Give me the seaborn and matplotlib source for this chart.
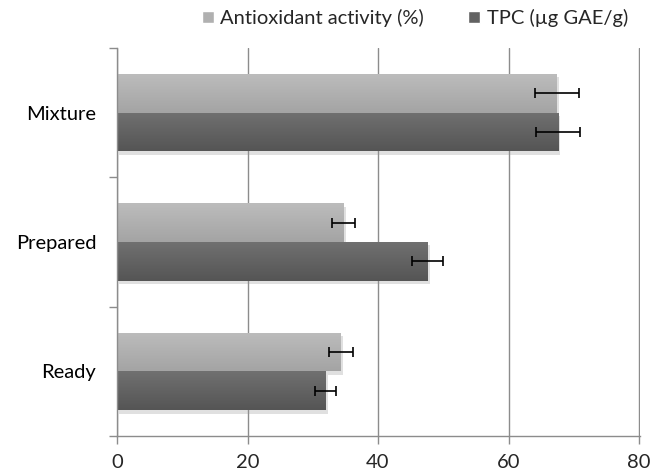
import numpy as np
import pandas as pd
import matplotlib
matplotlib.use("Agg")
import matplotlib.pyplot as plt
import matplotlib.patheffects as pe
from matplotlib.colors import LinearSegmentedColormap
import seaborn as sns

# Data
samples = ["Mixture", "Prepared", "Ready"]
series = ["Antioxidant activity (%)", "TPC (µg GAE/g)"]
antioxidant = [67.4, 34.7, 34.3]
antioxidant_err = [3.4, 1.8, 1.8]
tpc = [67.6, 47.6, 32.0]
tpc_err = [3.4, 2.4, 1.6]

df = pd.DataFrame({
    "sample": samples * 2,
    "series": [series[0]] * 3 + [series[1]] * 3,
    "value": antioxidant + tpc,
})
errors = {series[0]: antioxidant_err, series[1]: tpc_err}
gradients = {
    series[0]: LinearSegmentedColormap.from_list("light", ["#bcbcbc", "#a4a4a4"]),
    series[1]: LinearSegmentedColormap.from_list("dark", ["#707070", "#555555"]),
}

sns.set_style("white")
plt.rcParams["font.family"] = ["Lato", "DejaVu Sans"]

fig = plt.figure(figsize=(6.6, 4.72), dpi=100)
ax = fig.add_axes([117 / 660, 1 - 436 / 472, 523 / 660, 388 / 472])

sns.barplot(data=df, y="sample", x="value", hue="series", orient="h",
            order=samples, hue_order=series, errorbar=None, width=0.6,
            palette=["#b0b0b0", "#626262"], saturation=1, ax=ax, legend=True)

ax.set_xlim(0, 80)
ax.set_ylim(2.5, -0.5)

shadow = [pe.withSimplePatchShadow(offset=(1.5, -2.5), shadow_rgbFace="#999999", alpha=0.3)]
ramp = np.linspace(0, 1, 64).reshape(-1, 1)
for container, name in zip(ax.containers, series):
    centers = []
    for bar in container:
        bar.set_path_effects(shadow)
        bar.set_edgecolor("none")
        x0, y0, w, h = bar.get_x(), bar.get_y(), bar.get_width(), bar.get_height()
        # vertical shading inside the bar (top lighter, bottom darker)
        img = ax.imshow(ramp, cmap=gradients[name], aspect="auto",
                        extent=(x0, x0 + w, y0 + h, y0), zorder=bar.get_zorder() + 0.1,
                        interpolation="bilinear")
        img.set_clip_path(bar)
        centers.append(y0 + h / 2)
    vals = [bar.get_width() for bar in container]
    ax.errorbar(vals, centers, xerr=errors[name], fmt="none", ecolor="black",
                elinewidth=1.2, capsize=3.5, capthick=1.2, zorder=5)

ax.set_xlim(0, 80.15)
ax.set_ylim(2.5, -0.5)
ax.set_xticks([0, 20, 40, 60, 80])
ax.xaxis.grid(True, color="#8c8c8c", linewidth=1)
ax.set_axisbelow(True)
ax.set_xlabel("")
ax.set_ylabel("")

# category ticks sit between groups, like Excel
ax.set_yticks([-0.5, 0.5, 1.5, 2.5], minor=True)
ax.tick_params(axis="y", which="major", length=0, pad=15, labelsize=14.5, colors="black")
ax.tick_params(axis="y", which="minor", length=6, width=1, color="#8c8c8c", direction="out", left=True)
ax.tick_params(axis="x", length=6, width=1, color="#8c8c8c", direction="out", bottom=True,
               labelsize=14.5, pad=7)

for s in ["top", "right"]:
    ax.spines[s].set_visible(False)
for s in ["left", "bottom"]:
    ax.spines[s].set_color("#8c8c8c")
    ax.spines[s].set_linewidth(1)

handles, labels = ax.get_legend_handles_labels()
ax.get_legend().remove()
fig.legend(handles, labels, loc="center", bbox_to_anchor=(415 / 660, 1 - 18 / 472),
           ncol=2, frameon=False, fontsize=14.5, handlelength=0.6, handleheight=0.6,
           handletextpad=0.3, columnspacing=2.2)

fig.savefig("out.png", dpi=100)
